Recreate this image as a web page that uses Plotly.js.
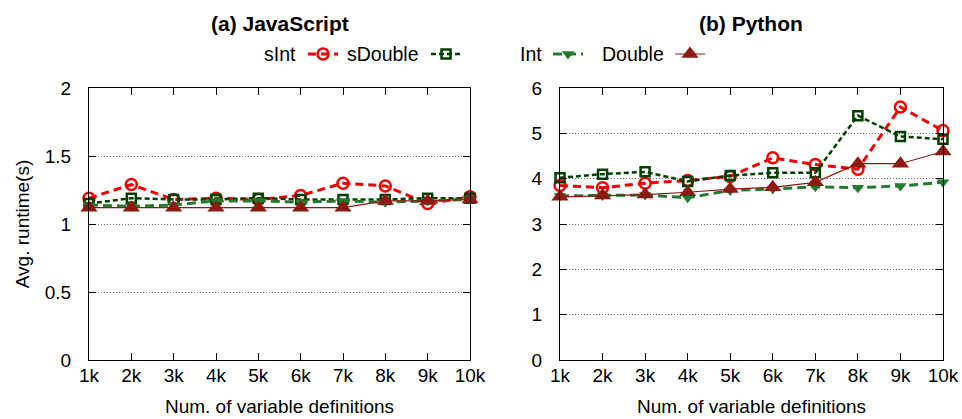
<!DOCTYPE html>
<html><head><meta charset="utf-8">
<script src="https://cdn.plot.ly/plotly-3.0.1.min.js"></script>
<style>html,body{margin:0;padding:0;background:#fff}#chart{width:962px;height:419px}</style>
</head><body><div id="chart"></div>
<script>
// ---- data ----
const sizeLabels = ['1k','2k','3k','4k','5k','6k','7k','8k','9k','10k'];
const sizeIdx = [1,2,3,4,5,6,7,8,9,10];
const seriesNames = ['sInt','sDouble','Int','Double'];

const jsSInt    = [1.19,1.29,1.18,1.19,1.18,1.21,1.30,1.28,1.15,1.20];
const jsSDouble = [1.15,1.19,1.18,1.18,1.19,1.18,1.18,1.18,1.19,1.19];
const jsInt     = [1.14,1.13,1.14,1.17,1.17,1.16,1.17,1.16,1.17,1.18];
const jsDouble  = [1.12,1.12,1.12,1.12,1.12,1.12,1.12,1.17,1.17,1.18];

const pySInt    = [3.85,3.80,3.90,3.96,4.05,4.46,4.31,4.21,5.58,5.06];
const pySDouble = [4.02,4.10,4.15,3.94,4.07,4.13,4.13,5.39,4.93,4.87];
const pyInt     = [3.62,3.63,3.64,3.58,3.74,3.77,3.82,3.80,3.84,3.92];
const pyDouble  = [3.60,3.63,3.65,3.70,3.77,3.81,3.92,4.33,4.33,4.60];

// ---- styles ----
const FONT = 'Liberation Sans, Arial, Helvetica, sans-serif';
const styles = [
  {line:{color:'#f00000', width:3, dash:'8px,5px'}, marker:{symbol:'circle-open', size:11, color:'#f00000', line:{color:'#f00000', width:2.5}}},
  {line:{color:'#003f00', width:2.5, dash:'5px,3px'}, marker:{symbol:'square-open', size:9, color:'#003f00', line:{color:'#003f00', width:2.5}}},
  {line:{color:'#237a30', width:3, dash:'9px,5px'}, marker:{symbol:'triangle-down', size:11, color:'#237a30'}},
  {line:{color:'#8c1a12', width:1.2}, marker:{symbol:'triangle-up', size:15, color:'#8c1a12'}}
];
const legendIds = ['legend','legend2','legend3','legend4'];

const jsData = [jsSInt, jsSDouble, jsInt, jsDouble];
const pyData = [pySInt, pySDouble, pyInt, pyDouble];

const traces = [];
jsData.forEach((ys, i) => traces.push(Object.assign({
  type:'scatter', mode:'lines+markers', x:sizeIdx, y:ys, xaxis:'x', yaxis:'y',
  name:'', legend:legendIds[i], showlegend:true, cliponaxis:false, hoverinfo:'skip'
}, JSON.parse(JSON.stringify(styles[i])))));
pyData.forEach((ys, i) => traces.push(Object.assign({
  type:'scatter', mode:'lines+markers', x:sizeIdx, y:ys, xaxis:'x2', yaxis:'y2',
  name:'', showlegend:false, cliponaxis:false, hoverinfo:'skip'
}, JSON.parse(JSON.stringify(styles[i])))));

const W = 962, H = 419;
const px = v => v / W, py = v => 1 - v / H;

const axBase = {
  showline:true, linecolor:'#000', linewidth:1, mirror:'ticks',
  ticks:'inside', ticklen:7, tickcolor:'#000', tickwidth:1,
  tickfont:{family:FONT, size:19, color:'#000'}, zeroline:false, fixedrange:true
};
const xBase = Object.assign({}, axBase, {
  range:[1,10], tickmode:'array', tickvals:sizeIdx, ticktext:sizeLabels, showgrid:false,
  ticklabelstandoff:-2,
  title:{text:'Num. of variable definitions', font:{family:FONT, size:19, color:'#000'}, standoff:14}
});
const yBase = Object.assign({}, axBase, {
  showgrid:true, gridcolor:'#707070', gridwidth:1, griddash:'1px,2px', ticklabelstandoff:13
});

const legendCenters = [323, 446, 568, 690];
const legendLayouts = {};
legendIds.forEach((id, i) => {
  legendLayouts[id] = {
    x: px(legendCenters[i] - 20), xanchor:'left', y: py(54), yanchor:'middle',
    orientation:'h', bgcolor:'rgba(0,0,0,0)', borderwidth:0,
    font:{family:FONT, size:10}, itemwidth:30, itemclick:false, itemdoubleclick:false
  };
});

const legendTextRight = [298, 421, 544, 666];
const annotations = [
  {text:'<b>(a) JavaScript</b>', x:px(280), y:py(23), xref:'paper', yref:'paper', showarrow:false,
   xanchor:'center', yanchor:'middle', font:{family:FONT, size:21, color:'#000'}},
  {text:'<b>(b) Python</b>', x:px(751), y:py(23), xref:'paper', yref:'paper', showarrow:false,
   xanchor:'center', yanchor:'middle', font:{family:FONT, size:21, color:'#000'}}
];
seriesNames.forEach((n, i) => annotations.push({
  text:n, x:px(legendTextRight[i]), y:py(54), xref:'paper', yref:'paper', showarrow:false,
  xanchor:'right', yanchor:'middle', font:{family:FONT, size:19.5, color:'#000'}
}));

const layout = Object.assign({
  width:W, height:H, margin:{l:0, r:0, t:0, b:0},
  paper_bgcolor:'#fff', plot_bgcolor:'#fff', showlegend:true,
  xaxis: Object.assign({}, xBase, {domain:[px(89), px(470)], anchor:'y'}),
  yaxis: Object.assign({}, yBase, {domain:[py(360), py(88)], range:[0,2], dtick:0.5, anchor:'x',
    title:{text:'Avg. runtime(s)', font:{family:FONT, size:19, color:'#000'}, standoff:10}}),
  xaxis2: Object.assign({}, xBase, {domain:[px(560), px(943)], anchor:'y2'}),
  yaxis2: Object.assign({}, yBase, {domain:[py(360), py(88)], range:[0,6], dtick:1, anchor:'x2'}),
  annotations: annotations
}, legendLayouts);

Plotly.newPlot('chart', traces, layout, {displayModeBar:false, staticPlot:true});
</script>
</body></html>
